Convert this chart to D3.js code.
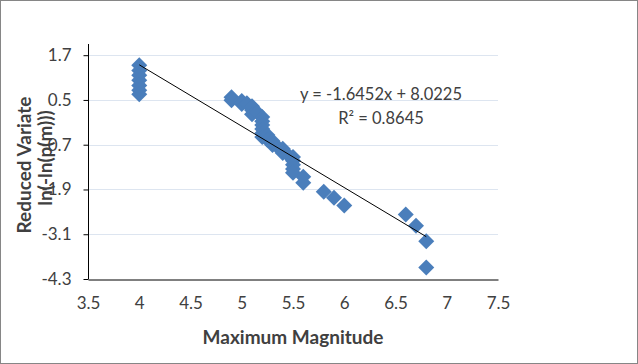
<!DOCTYPE html>
<html>
<head>
<meta charset="utf-8">
<script src="https://cdn.jsdelivr.net/npm/d3@7"></script>
<style>
  body { margin: 0; background: #fff; }
  text { font-family: Lato, "Open Sans", sans-serif; fill: #404040; }
</style>
</head>
<body>
<svg id="chart"></svg>
<script>
// magnitude (x) and reduced variate (y) of each point
const magnitudes = [4, 4, 4, 4, 4, 4, 4,
    4.9, 4.9, 5.0, 5.0, 5.05, 5.1, 5.1, 5.1, 5.15,
    5.2, 5.2, 5.2, 5.2, 5.2, 5.2, 5.25, 5.25,
    5.3, 5.3, 5.35, 5.4, 5.4, 5.45, 5.5, 5.5, 5.5, 5.5, 5.5,
    5.6, 5.6, 5.8, 5.9, 6.0, 6.6, 6.7, 6.8, 6.8];
const reducedVariate = [1.43, 1.29, 1.16, 1.03, 0.89, 0.76, 0.65,
    0.57, 0.49, 0.47, 0.39, 0.41, 0.33, 0.23, 0.12, 0.17,
    0.04, -0.07, -0.17, -0.28, -0.39, -0.49, -0.44, -0.57,
    -0.6, -0.71, -0.76, -0.81, -0.92, -0.97, -1.03, -1.13, -1.24, -1.35, -1.45,
    -1.56, -1.72, -1.96, -2.12, -2.33, -2.57, -2.87, -3.29, -3.99];

const xTicks = [3.5, 4, 4.5, 5, 5.5, 6, 6.5, 7, 7.5];
const yTicks = [1.7, 0.5, -0.7, -1.9, -3.1, -4.3];

// trendline from the chart's own equation
const slope = -1.6452;
const intercept = 8.0225;
const eqLabel = "y = -1.6452x + 8.0225";
const r2Label = "R² = 0.8645";

const width = 638, height = 364;
const margin = { left: 88, right: 140, top: 44, bottom: 85 };

const svg = d3.select("#chart")
    .attr("width", width)
    .attr("height", height);

// chart border
svg.append("rect")
    .attr("x", 0.5).attr("y", 0.5)
    .attr("width", width - 1).attr("height", height - 1)
    .attr("fill", "#fff")
    .attr("stroke", "#868686");

const xScale = d3.scaleLinear()
    .domain([3.5, 7.5])
    .range([margin.left, width - margin.right]);

const yScale = d3.scaleLinear()
    .domain([-4.3, 2])
    .range([height - margin.bottom, margin.top]);

// gridlines
svg.append("g")
    .selectAll("line")
    .data(yTicks.filter(d => d !== -4.3))
    .join("line")
    .attr("x1", xScale(3.5)).attr("x2", xScale(7.5))
    .attr("y1", d => Math.round(yScale(d)) + 0.5)
    .attr("y2", d => Math.round(yScale(d)) + 0.5)
    .attr("stroke", "#dde5f0");

// y axis
const yAxis = d3.axisLeft(yScale)
    .tickValues(yTicks)
    .tickSize(5)
    .tickPadding(12)
    .tickFormat(d => d.toFixed(1));
const gy = svg.append("g")
    .attr("transform", "translate(" + (margin.left + 0.5) + ",0)")
    .call(yAxis);
gy.select(".domain").attr("stroke", "#000").attr("d", "M0," + yScale(2) + "V" + yScale(-4.3));
gy.selectAll(".tick line").attr("stroke", "#000");
gy.selectAll("text")
    .style("font-size", "17px")
    .attr("fill", "#404040");

// x axis
const xAxis = d3.axisBottom(xScale)
    .tickValues(xTicks)
    .tickSize(0)
    .tickPadding(17)
    .tickFormat(d => d);
const gx = svg.append("g")
    .attr("transform", "translate(0," + (Math.round(yScale(-4.3)) + 0.5) + ")")
    .call(xAxis);
gx.select(".domain").attr("stroke", "#000");
gx.selectAll("text")
    .style("font-size", "17px")
    .attr("fill", "#404040");

const xMin = d3.min(magnitudes), xMax = d3.max(magnitudes);

// diamonds
const diamond = d3.symbol().type(d3.symbolSquare).size(128);
svg.append("g")
    .selectAll("path")
    .data(magnitudes.map((m, i) => [m, reducedVariate[i]]))
    .join("path")
    .attr("d", diamond)
    .attr("transform", d => "translate(" + xScale(d[0]) + "," + yScale(d[1]) + ") rotate(45)")
    .attr("fill", "#4a7ebb");

// trendline across the data range, on top of the markers
svg.append("line")
    .attr("x1", xScale(xMin)).attr("y1", yScale(slope * xMin + intercept))
    .attr("x2", xScale(xMax)).attr("y2", yScale(slope * xMax + intercept))
    .attr("stroke", "#000")
    .attr("stroke-width", 1);

// equation
svg.append("text")
    .attr("x", 381).attr("y", 100)
    .attr("text-anchor", "middle")
    .style("font-size", "16.5px")
    .attr("fill", "#000")
    .text(eqLabel);
svg.append("text")
    .attr("x", 381).attr("y", 124)
    .attr("text-anchor", "middle")
    .style("font-size", "16.5px")
    .attr("fill", "#000")
    .text(r2Label);

// axis titles
svg.append("text")
    .attr("x", 293).attr("y", 344)
    .attr("text-anchor", "middle")
    .style("font-size", "19px")
    .style("font-weight", "bold")
    .attr("fill", "#000")
    .text("Maximum Magnitude");

svg.append("text")
    .attr("transform", "translate(31,165) rotate(-90)")
    .attr("text-anchor", "middle")
    .style("font-size", "19px")
    .style("font-weight", "bold")
    .attr("fill", "#000")
    .text("Reduced Variate");
svg.append("text")
    .attr("transform", "translate(52,158) rotate(-90)")
    .attr("text-anchor", "middle")
    .style("font-size", "19px")
    .style("font-weight", "bold")
    .attr("fill", "#000")
    .text("ln(-ln(p(m)))");
</script>
</body>
</html>
